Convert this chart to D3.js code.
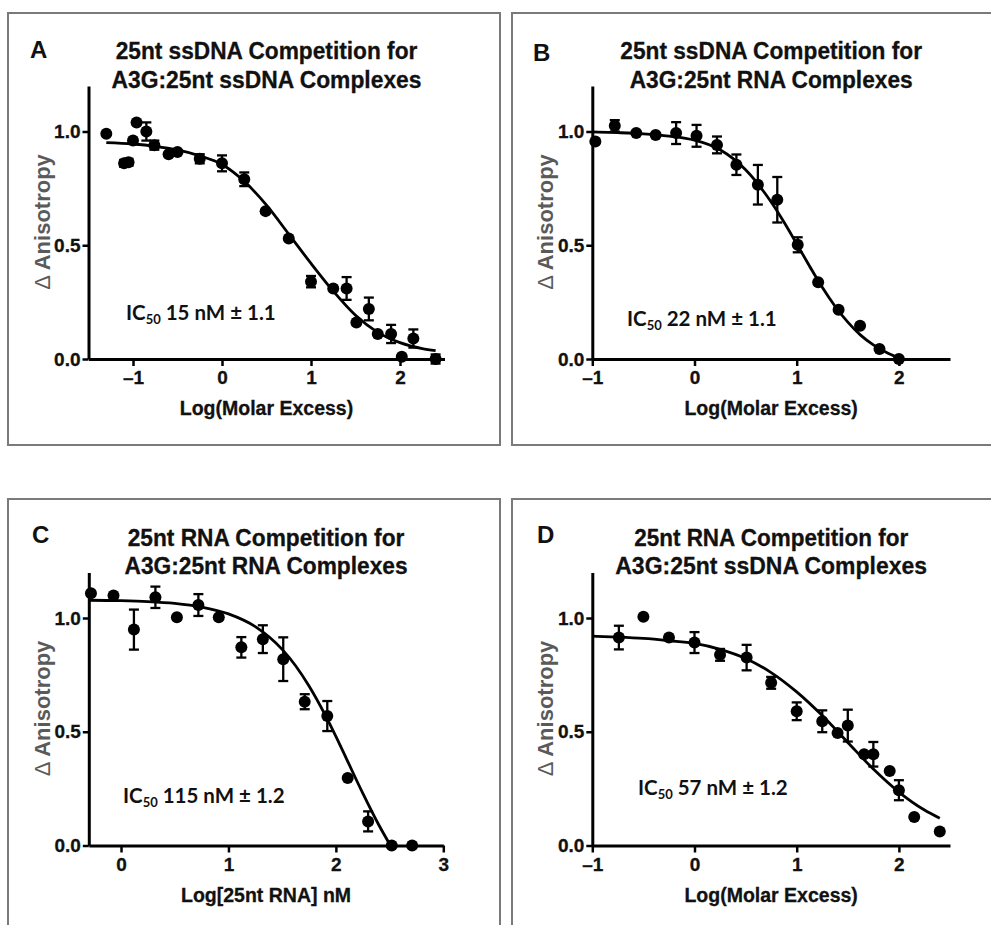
<!DOCTYPE html>
<html><head><meta charset="utf-8">
<script src="https://cdn.jsdelivr.net/npm/d3@7"></script>
<style>body{margin:0;background:#fff}</style>
</head><body><svg id="c" width="991" height="925"></svg>
<script>
// ---------------- DATA ----------------
const letters = ["A", "B", "C", "D"];
const titleLine1 = ["25nt ssDNA Competition for", "25nt ssDNA Competition for", "25nt RNA Competition for", "25nt RNA Competition for"];
const titleLine2 = ["A3G:25nt ssDNA Complexes", "A3G:25nt RNA Complexes", "A3G:25nt RNA Complexes", "A3G:25nt ssDNA Complexes"];
const xAxisLabels = ["Log(Molar Excess)", "Log(Molar Excess)", "Log[25nt RNA] nM", "Log(Molar Excess)"];
const yAxisLabel = "Anisotropy";
const ic50Values = ["15 nM ± 1.1", "22 nM ± 1.1", "115 nM ± 1.2", "57 nM ± 1.2"];

const yTickValues = [0, 0.5, 1.0];
const yTickLabels = ["0.0", "0.5", "1.0"];
const xTickValuesA = [-1, 0, 1, 2];
const xTickLabelsA = ["\u20131", "0", "1", "2"];
const xTickValuesB = [-1, 0, 1, 2];
const xTickLabelsB = ["\u20131", "0", "1", "2"];
const xTickValuesC = [0, 1, 2, 3];
const xTickLabelsC = ["0", "1", "2", "3"];
const xTickValuesD = [-1, 0, 1, 2];
const xTickLabelsD = ["\u20131", "0", "1", "2"];

// Panel A: points (log molar excess, delta anisotropy, SEM)
const aX = [-1.30, -1.10, -1.05, -1.00, -0.96, -0.85, -0.76, -0.60, -0.50, -0.25, 0.00, 0.25, 0.49, 0.75, 1.00, 1.25, 1.40, 1.51, 1.65, 1.75, 1.90, 2.02, 2.15, 2.40];
const aY = [0.99, 0.86, 0.865, 0.96, 1.04, 1.00, 0.94, 0.90, 0.91, 0.88, 0.86, 0.79, 0.65, 0.53, 0.34, 0.31, 0.31, 0.16, 0.22, 0.11, 0.11, 0.01, 0.09, 0.00];
const aErr = [0, 0.015, 0.015, 0, 0, 0.04, 0.02, 0.01, 0.01, 0.02, 0.035, 0.03, 0.01, 0.01, 0.025, 0.01, 0.05, 0.01, 0.05, 0.01, 0.04, 0, 0.04, 0.02];
const aCurveX = [-1.3, -1.0, -0.75, -0.5, -0.25, 0, 0.25, 0.5, 0.75, 1.0, 1.25, 1.5, 1.75, 2.0, 2.25, 2.4];
const aCurveY = [0.951, 0.945, 0.935, 0.919, 0.893, 0.855, 0.781, 0.676, 0.549, 0.420, 0.298, 0.192, 0.117, 0.072, 0.046, 0.037];

// Panel B
const bX = [-0.97, -0.78, -0.57, -0.38, -0.18, 0.02, 0.22, 0.41, 0.62, 0.81, 1.01, 1.21, 1.41, 1.62, 1.81, 2.00];
const bY = [0.956, 1.025, 0.993, 0.985, 0.993, 0.981, 0.941, 0.854, 0.766, 0.700, 0.502, 0.337, 0.217, 0.146, 0.044, 0.000];
const bErr = [0, 0.025, 0.01, 0.01, 0.048, 0.048, 0.037, 0.045, 0.087, 0.10, 0.033, 0.01, 0.01, 0.01, 0.01, 0.01];
const bCurveX = [-1.0, -0.75, -0.5, -0.25, 0, 0.25, 0.5, 0.75, 0.875, 1.0, 1.125, 1.25, 1.375, 1.5, 1.625, 1.75, 1.875, 2.0];
const bCurveY = [0.998, 0.995, 0.990, 0.980, 0.962, 0.920, 0.832, 0.690, 0.602, 0.506, 0.409, 0.315, 0.232, 0.162, 0.105, 0.062, 0.030, 0.004];

// Panel C
const cX = [-0.28, -0.07, 0.12, 0.32, 0.52, 0.72, 0.91, 1.12, 1.32, 1.51, 1.71, 1.92, 2.11, 2.30, 2.52, 2.71];
const cY = [1.109, 1.099, 0.949, 1.091, 1.003, 1.057, 1.003, 0.871, 0.907, 0.819, 0.632, 0.569, 0.297, 0.106, 0.000, 0.000];
const cErr = [0.01, 0.01, 0.088, 0.047, 0.01, 0.048, 0.01, 0.045, 0.061, 0.096, 0.033, 0.066, 0.01, 0.044, 0.01, 0.01];
const cCurveX = [-0.3, 0, 0.25, 0.5, 0.75, 1.0, 1.25, 1.5, 1.625, 1.75, 1.9, 2.0, 2.1, 2.25, 2.4, 2.508];
const cCurveY = [1.078, 1.076, 1.072, 1.064, 1.048, 1.018, 0.962, 0.862, 0.790, 0.701, 0.574, 0.480, 0.380, 0.230, 0.090, 0.000];

// Panel D
const dX = [-0.74, -0.50, -0.25, 0.00, 0.25, 0.51, 0.75, 1.00, 1.25, 1.40, 1.50, 1.66, 1.75, 1.91, 2.00, 2.15, 2.40];
const dY = [0.914, 1.006, 0.914, 0.892, 0.838, 0.826, 0.715, 0.590, 0.546, 0.494, 0.527, 0.401, 0.401, 0.327, 0.243, 0.125, 0.062];
const dErr = [0.052, 0, 0.01, 0.046, 0.026, 0.056, 0.026, 0.039, 0.048, 0.01, 0.07, 0.01, 0.054, 0.01, 0.044, 0, 0];
const dCurveX = [-1.0, -0.75, -0.5, -0.25, 0, 0.25, 0.5, 0.75, 1.0, 1.25, 1.5, 1.75, 2.0, 2.25, 2.4];
const dCurveY = [0.920, 0.916, 0.910, 0.900, 0.888, 0.862, 0.822, 0.760, 0.675, 0.571, 0.453, 0.336, 0.235, 0.156, 0.120];

// ---------------- LAYOUT ----------------
const layout = [
  {fx: 8,   fy: 13,  fw: 492, fh: 432, x0: 88.5,  x1: 444.5, xd: [-1.5, 2.5], yb: 359,   letter: [30, 58],  tl: [301.7, 310]},
  {fx: 512, fy: 13,  fw: 490, fh: 432, x0: 592.3, x1: 950,   xd: [-1, 2.5],   yb: 359,   letter: [533, 61], tl: [301.7, 283]},
  {fx: 8,   fy: 499, fw: 492, fh: 440, x0: 88.8,  x1: 443.3, xd: [-0.3, 3],   yb: 845.5, letter: [32, 543], tl: [276.7, 283]},
  {fx: 512, fy: 499, fw: 490, fh: 440, x0: 592.3, x1: 950,   xd: [-1, 2.5],   yb: 845.5, letter: [537, 543], tl: [274, 311.7]}
];
const series = [
  {x: aX, y: aY, e: aErr, cx: aCurveX, cy: aCurveY, xt: xTickValuesA, xl: xTickLabelsA},
  {x: bX, y: bY, e: bErr, cx: bCurveX, cy: bCurveY, xt: xTickValuesB, xl: xTickLabelsB},
  {x: cX, y: cY, e: cErr, cx: cCurveX, cy: cCurveY, xt: xTickValuesC, xl: xTickLabelsC},
  {x: dX, y: dY, e: dErr, cx: dCurveX, cy: dCurveY, xt: xTickValuesD, xl: xTickLabelsD}
];

const svg = d3.select("#c");
svg.append("rect").attr("width", 991).attr("height", 925).attr("fill", "#fff");
const FONT = "'Liberation Sans', Arial, sans-serif";
const unitY = 227.5;

layout.forEach((L, i) => {
  const S = series[i];
  const g = svg.append("g");
  // frame
  g.append("rect").attr("x", L.fx).attr("y", L.fy).attr("width", L.fw).attr("height", L.fh)
    .attr("fill", "none").attr("stroke", "#7a7a7a").attr("stroke-width", 2);

  const x = d3.scaleLinear().domain(L.xd).range([L.x0, L.x1]);
  const y = d3.scaleLinear().domain([0, 1.2]).range([L.yb, L.yb - 1.2 * unitY]);

  // axes
  const yAxis = d3.axisLeft(y).tickValues(yTickValues).tickFormat((d, k) => yTickLabels[k])
    .tickSizeInner(6).tickSizeOuter(0).tickPadding(2);
  const ya = g.append("g").attr("transform", `translate(${L.x0},0)`).call(yAxis);
  const xAxis = d3.axisBottom(x).tickValues(S.xt).tickFormat((d, k) => S.xl[k])
    .tickSizeInner(7).tickSizeOuter(0).tickPadding(5);
  const xa = g.append("g").attr("transform", `translate(0,${L.yb})`).call(xAxis);
  [ya, xa].forEach(a => {
    a.select(".domain").attr("stroke", "#000").attr("stroke-width", 3);
    a.selectAll(".tick line").attr("stroke", "#000").attr("stroke-width", 2.5);
    a.selectAll(".tick text").attr("fill", "#111").attr("font-family", FONT)
      .attr("font-weight", "bold").attr("font-size", 19)
      .attr("stroke", "#111").attr("stroke-width", 0.3);
  });
  xa.selectAll(".tick text").attr("dy", "0.71em");

  // panel letter
  g.append("text").attr("x", L.letter[0]).attr("y", L.letter[1]).text(letters[i])
    .attr("font-family", FONT).attr("font-weight", "bold").attr("font-size", 24).attr("fill", "#111");

  // title
  const cxT = (L.x0 + L.x1) / 2;
  [titleLine1[i], titleLine2[i]].forEach((t, k) => {
    g.append("text").attr("x", cxT).attr("y", L.yb - 300 + k * 28.5).attr("text-anchor", "middle")
      .attr("font-family", FONT).attr("font-weight", "bold").attr("font-size", 23).attr("fill", "#111")
      .attr("stroke", "#111").attr("stroke-width", 0.3)
      .attr("textLength", L.tl[k]).attr("lengthAdjust", "spacingAndGlyphs").text(t);
  });

  // y label
  const yl = g.append("text").attr("transform", `translate(${L.x0 - 39},${L.yb - 137}) rotate(-90)`)
    .attr("text-anchor", "middle").attr("font-family", FONT).attr("font-size", 22).attr("fill", "#5a5a5a");
  yl.append("tspan").attr("font-weight", "normal").text("\u0394 ");
  yl.append("tspan").attr("font-weight", "bold").text(yAxisLabel);

  // x label
  g.append("text").attr("x", cxT).attr("y", L.yb + 56).attr("text-anchor", "middle")
    .attr("font-family", FONT).attr("font-weight", "bold").attr("font-size", 19.5).attr("fill", "#111")
    .attr("stroke", "#111").attr("stroke-width", 0.3)
    .text(xAxisLabels[i]);

  // IC50 annotation
  const icPos = [[126, 320], [627, 326], [123, 803], [638, 795]][i];
  const ic = g.append("text").attr("x", icPos[0]).attr("y", icPos[1])
    .attr("font-family", "Lato, 'Open Sans', sans-serif").attr("font-weight", "bold").attr("font-size", 20.5).attr("fill", "#111");
  ic.append("tspan").text("IC");
  ic.append("tspan").attr("font-size", 13).attr("dy", 4).text("50");
  ic.append("tspan").attr("dy", -4).text(" " + ic50Values[i]);

  // fitted curve
  const pts = S.cx.map((v, k) => [v, S.cy[k]]);
  g.append("path").datum(pts)
    .attr("d", d3.line().x(d => x(d[0])).y(d => y(d[1])).curve(d3.curveMonotoneX))
    .attr("fill", "none").attr("stroke", "#000").attr("stroke-width", 2.8);

  // error bars
  const data = S.x.map((v, k) => ({x: v, y: S.y[k], e: S.e[k]}));
  const eb = g.append("g").attr("stroke", "#000").attr("stroke-width", 2.3);
  data.filter(d => d.e > 0.012).forEach(d => {
    const px = x(d.x), yt = y(d.y + d.e), yb2 = y(d.y - d.e);
    eb.append("line").attr("x1", px).attr("x2", px).attr("y1", yt).attr("y2", yb2);
    eb.append("line").attr("x1", px - 5).attr("x2", px + 5).attr("y1", yt).attr("y2", yt);
    eb.append("line").attr("x1", px - 5).attr("x2", px + 5).attr("y1", yb2).attr("y2", yb2);
  });
  // points
  g.append("g").selectAll("circle").data(data).join("circle")
    .attr("cx", d => x(d.x)).attr("cy", d => y(d.y)).attr("r", 6).attr("fill", "#000");
});
</script>
</body></html>
